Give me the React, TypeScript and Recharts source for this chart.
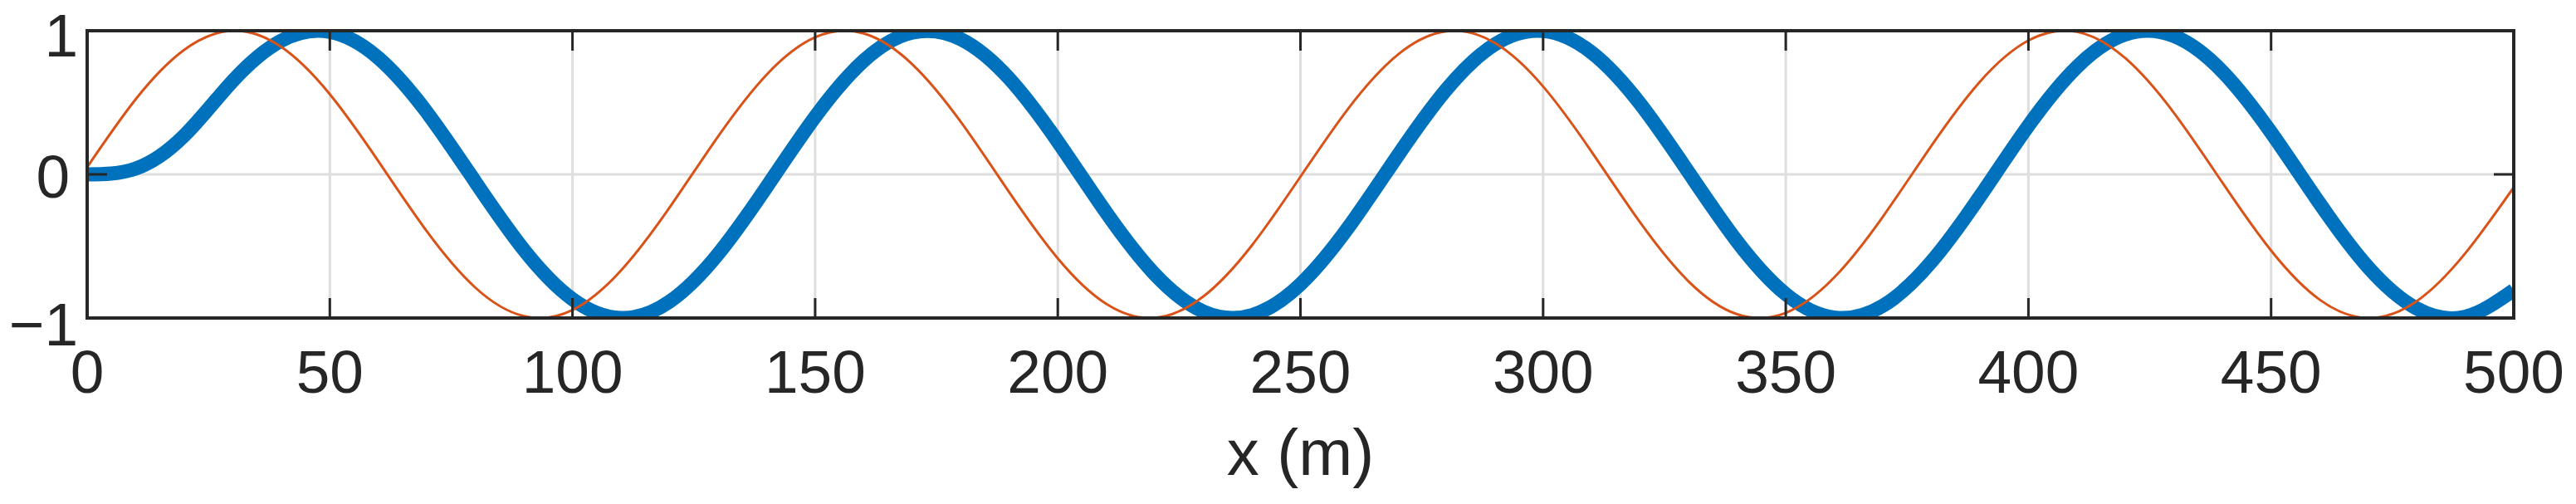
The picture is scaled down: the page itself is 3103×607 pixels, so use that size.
import { CartesianGrid, Line, LineChart, XAxis, YAxis } from 'recharts'

// x positions along the profile (m), one reading every 10 m
const X_M = [
  0, 10, 20, 30, 40, 50, 60, 70, 80, 90,
  100, 110, 120, 130, 140, 150, 160, 170, 180, 190,
  200, 210, 220, 230, 240, 250, 260, 270, 280, 290,
  300, 310, 320, 330, 340, 350, 360, 370, 380, 390,
  400, 410, 420, 430, 440, 450, 460, 470, 480, 490,
  500,
]

// thin orange wave
const WAVE_THIN = [
  0.05, 0.523, 0.867, 1.0, 0.887, 0.558, 0.092, -0.397, -0.789, -0.987,
  -0.944, -0.669, -0.231, 0.264, 0.694, 0.954, 0.981, 0.767, 0.366, -0.125,
  -0.585, -0.902, -0.999, -0.85, -0.494, -0.016, 0.465, 0.832, 0.996, 0.916,
  0.612, 0.157, -0.335, -0.746, -0.974, -0.964, -0.717, -0.295, 0.199, 0.645,
  0.932, 0.992, 0.808, 0.427, -0.059, -0.53, -0.872, -1.0, -0.883, -0.55,
  -0.09,
]

// thick blue wave (lagging, starts flat at zero)
const WAVE_THICK = [
  0, 0.04, 0.27, 0.65, 0.93, 0.992, 0.811, 0.432, -0.053, -0.526,
  -0.869, -1.0, -0.886, -0.555, -0.088, 0.4, 0.791, 0.987, 0.942, 0.667,
  0.228, -0.267, -0.696, -0.955, -0.98, -0.765, -0.363, 0.128, 0.588, 0.904,
  0.998, 0.848, 0.491, 0.013, -0.468, -0.834, -0.997, -0.915, -0.609, -0.154,
  0.339, 0.748, 0.975, 0.963, 0.715, 0.292, -0.202, -0.647, -0.934, -0.991,
  -0.806,
]

const X_TICKS = [0, 50, 100, 150, 200, 250, 300, 350, 400, 450, 500]
const Y_TICKS = [-1, 0, 1]
const Y_TICK_TEXT: Record<number, string> = { [-1]: '\u22121', 0: '0', 1: '1' }
const X_LABEL = 'x (m)'

const W = 3103
const H = 607
const INK = '#262626'
const GRID = '#dedede'
const BLUE = '#0072BD'
const ORANGE = '#D95319'
const FONT = '"Liberation Sans", Arial, Helvetica, sans-serif'
const TICK_LEN = 24
const AXIS_LINE = { stroke: INK, strokeWidth: 4, strokeLinecap: 'square' as const }

// MATLAB aligns the y labels by their ink and nudges the end ones off the corners
const Y_NUDGE_Y: Record<number, number> = { [-1]: 7, 0: 2, 1: 5 }
const Y_NUDGE_X: Record<number, number> = { [-1]: 10, 0: 0, 1: 10 }

const data = X_M.map((x, i) => ({ x, thin: WAVE_THIN[i], thick: WAVE_THICK[i] }))

function BottomTick({ x, y, payload }: any) {
  return (
    <g>
      <line x1={x} y1={y} x2={x} y2={y - TICK_LEN} stroke={INK} strokeWidth={3} />
      <text x={x} y={y + 90} textAnchor="middle" fontSize={73} fill={INK} fontFamily={FONT}>
        {payload.value}
      </text>
    </g>
  )
}

function TopTick({ x, y }: any) {
  return <line x1={x} y1={y} x2={x} y2={y + TICK_LEN} stroke={INK} strokeWidth={3} />
}

function LeftTick({ x, y, payload }: any) {
  const v = payload.value as number
  return (
    <g>
      <line x1={x} y1={y} x2={x + TICK_LEN} y2={y} stroke={INK} strokeWidth={3} />
      <text
        x={x - 21 + Y_NUDGE_X[v]}
        y={y + Y_NUDGE_Y[v]}
        dy="0.36em"
        textAnchor="end"
        fontSize={73}
        fill={INK}
        fontFamily={FONT}
      >
        {Y_TICK_TEXT[v]}
      </text>
    </g>
  )
}

function RightTick({ x, y }: any) {
  return <line x1={x} y1={y} x2={x - TICK_LEN} y2={y} stroke={INK} strokeWidth={3} />
}

function XLabel({ viewBox }: any) {
  const { x, y, width } = viewBox
  return (
    <text x={x + width / 2} y={y + 189} textAnchor="middle" fontSize={78} fill={INK} fontFamily={FONT}>
      {X_LABEL}
    </text>
  )
}

export default function App() {
  return (
    <div style={{ position: 'absolute', left: 0, top: 0, width: W, height: H, background: '#fff' }}>
      <LineChart width={W} height={H} data={data} margin={{ top: 7, right: 45, bottom: 84, left: 25 }}>
        <CartesianGrid stroke={GRID} strokeWidth={3} />
        <XAxis
          type="number"
          dataKey="x"
          domain={[0, 500]}
          ticks={X_TICKS}
          interval={0}
          allowDataOverflow
          height={140}
          tickSize={0}
          tickMargin={0}
          tickLine={false}
          axisLine={AXIS_LINE}
          tick={BottomTick}
          label={{ content: XLabel }}
        />
        <XAxis
          xAxisId="top"
          orientation="top"
          type="number"
          dataKey="x"
          domain={[0, 500]}
          ticks={X_TICKS}
          interval={0}
          allowDataOverflow
          height={30}
          tickSize={0}
          tickMargin={0}
          tickLine={false}
          axisLine={AXIS_LINE}
          tick={TopTick}
        />
        <YAxis
          type="number"
          domain={[-1, 1]}
          ticks={Y_TICKS}
          interval={0}
          allowDataOverflow
          width={80}
          tickSize={0}
          tickMargin={0}
          tickLine={false}
          axisLine={AXIS_LINE}
          tick={LeftTick}
        />
        <YAxis
          yAxisId="right"
          orientation="right"
          type="number"
          domain={[-1, 1]}
          ticks={Y_TICKS}
          interval={0}
          allowDataOverflow
          width={30}
          tickSize={0}
          tickMargin={0}
          tickLine={false}
          axisLine={AXIS_LINE}
          tick={RightTick}
        />
        <Line
          type="natural"
          dataKey="thick"
          stroke={BLUE}
          strokeWidth={17}
          dot={false}
          activeDot={false}
          isAnimationActive={false}
        />
        <Line
          type="natural"
          dataKey="thin"
          stroke={ORANGE}
          strokeWidth={3}
          dot={false}
          activeDot={false}
          isAnimationActive={false}
        />
      </LineChart>
    </div>
  )
}
